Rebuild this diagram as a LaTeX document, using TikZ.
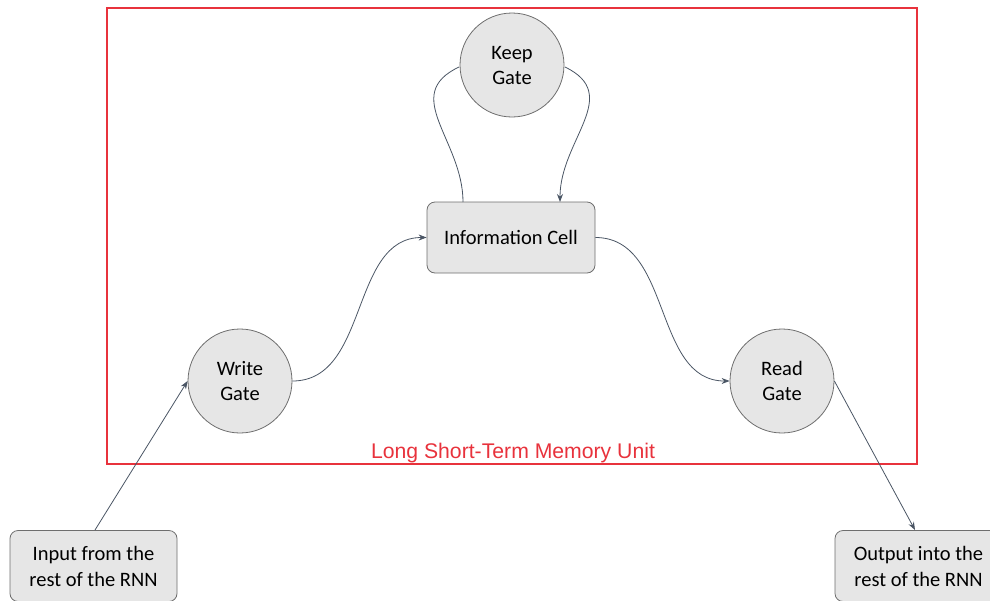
\documentclass[tikz,border=0pt]{standalone}
\usepackage{fontspec}
\setmainfont{Carlito}
\newfontfamily\labelfont{Liberation Sans}
\usetikzlibrary{arrows.meta}
\definecolor{nodefill}{HTML}{E6E6E6}
\definecolor{nodeline}{HTML}{6E6E6E}
\definecolor{wire}{HTML}{4A5564}
\definecolor{unitred}{HTML}{E8323C}
\begin{document}
\begin{tikzpicture}[x=1pt,y=-1pt,
  gate/.style={circle,draw=nodeline,fill=nodefill,line width=0.8pt,minimum size=104pt,inner sep=0pt,align=center,font=\fontsize{20.5}{25}\selectfont},
  cellbox/.style={rounded corners=8pt,draw=nodeline,fill=nodefill,line width=0.8pt,minimum width=168pt,minimum height=71pt,inner sep=0pt,align=center,font=\fontsize{20.5}{26}\selectfont},
  wireline/.style={draw=wire,line width=0.8pt,-{Stealth[length=8pt,width=6pt]}},
  plainwire/.style={draw=wire,line width=0.8pt}]
\useasboundingbox (0,0) rectangle (990,600);
% memory unit frame
\draw[unitred,line width=2pt] (107,8) rectangle (917,464);
\node[text=unitred,font=\labelfont\fontsize{21.2}{23}\selectfont,anchor=base] (unitlabel) at (513,458) {Long Short-Term Memory Unit};
% gates and cells
\node[gate] (keep) at (512,65) {Keep\\Gate};
\node[cellbox] (cell) at (511,237.5) {Information Cell};
\node[gate] (write) at (240,381) {Write\\Gate};
\node[gate] (read) at (782,381) {Read\\Gate};
\node[cellbox,minimum width=167pt] (input) at (93.5,566) {Input from the\\rest of the RNN};
\node[cellbox,minimum width=167pt] (output) at (918.5,566) {Output into the\\rest of the RNN};
% connectors
\coordinate (inputtop) at (95,530);
\coordinate (outputtop) at (915,530);
\coordinate (cellleft) at (463,202);
\coordinate (cellright) at (560,202);
\coordinate (keepleft) at (459,67);
\coordinate (keepright) at (565,67);
\draw[wireline] (inputtop) -- (write.west);
\draw[wireline] (write.east) to[out=0,in=180] (cell.west);
\draw[wireline] (cell.east) to[out=0,in=180] (read.west);
\draw[wireline] (read.east) -- (outputtop);
\draw[plainwire] (cellleft) .. controls (463,140) and (400,95) .. (keepleft);
\draw[wireline] (keepright) .. controls (623,95) and (560,140) .. (cellright);
\end{tikzpicture}
\end{document}
